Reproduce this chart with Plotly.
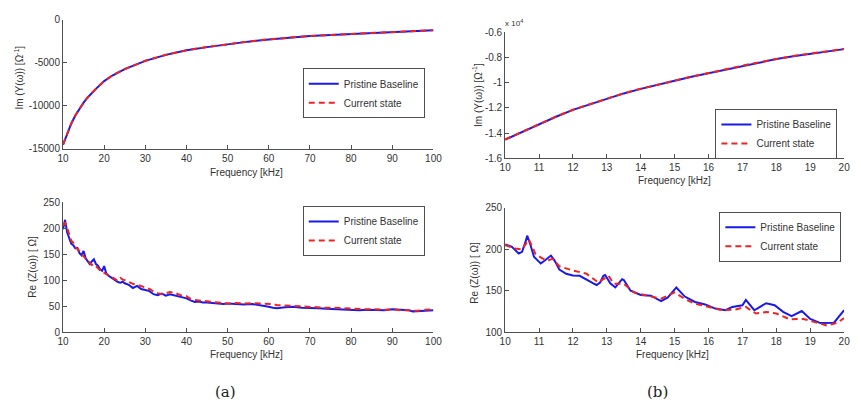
import plotly.graph_objects as go

# ---------------- data ----------------
# (a) top: imaginary admittance over 10-100 kHz
freq_a_im = [10, 11, 12, 13, 14, 15, 16, 17, 18, 20, 22, 25, 27.5, 30, 35, 40, 45,
             50, 55, 60, 65, 70, 75, 80, 85, 90, 95, 100]
im_a_base = [-14550, -13200, -12100, -11150, -10350, -9650, -9050, -8500, -8050,
             -7150, -6500, -5750, -5250, -4800, -4100, -3570, -3200, -2860, -2560,
             -2300, -2100, -1920, -1790, -1690, -1570, -1430, -1340, -1240]
im_a_curr = [-14530, -13190, -12080, -11140, -10340, -9640, -9040, -8490, -8040,
             -7140, -6490, -5740, -5240, -4790, -4090, -3560, -3190, -2850, -2550,
             -2290, -2090, -1910, -1780, -1680, -1560, -1420, -1330, -1230]

# (b) top: imaginary admittance over 10-20 kHz
freq_b_im = [10, 10.5, 11, 11.5, 12, 12.5, 13, 13.5, 14, 14.5, 15, 15.5, 16, 16.5,
             17, 17.5, 18, 18.5, 19, 19.5, 20]
im_b_base = [-14510, -13900, -13310, -12700, -12150, -11700, -11260, -10850, -10490,
             -10150, -9850, -9530, -9250, -8940, -8660, -8390, -8130, -7900, -7700,
             -7500, -7340]
im_b_curr = [-14500, -13890, -13300, -12690, -12140, -11690, -11250, -10840, -10480,
             -10140, -9840, -9520, -9240, -8930, -8650, -8380, -8120, -7890, -7690,
             -7490, -7330]

# (a) bottom: real impedance over 10-100 kHz
freq_a_re = [10, 10.5, 11, 11.5, 12, 12.5, 13, 13.5, 14, 14.5, 15, 15.5, 16, 16.5,
             17, 17.5, 18, 18.5, 19, 19.5, 20, 20.5, 21, 21.5, 22, 22.5, 23, 23.5,
             24, 24.5, 25, 26, 27, 28, 29, 30, 31, 32, 33, 34, 35, 36, 37, 38, 39,
             40, 41, 42, 43, 44, 45, 46, 47, 48, 49, 50, 52, 54, 56, 58, 60, 61, 62,
             64, 66, 68, 70, 72, 74, 76, 78, 80, 82, 84, 86, 88, 90, 92, 94, 95, 96,
             98, 100]
re_a_base = [198, 216, 192, 182, 170, 167, 161, 162, 152, 148, 156, 142, 137, 131,
             136, 140, 131, 128, 121, 118, 127, 113, 109, 106, 104, 100, 98, 96,
             95, 97, 94, 91, 85, 89, 83, 81, 79, 73, 71, 74, 70, 73, 71, 68, 66,
             65, 61, 58, 59, 57, 57, 56, 56, 55, 54, 55, 54, 53, 54, 52, 49, 47, 46,
             48, 49, 47, 47, 46, 45, 44, 44, 42, 42, 43, 42, 42, 44, 43, 42, 40, 40,
             41, 42]
re_a_curr = [205, 210, 201, 186, 176, 172, 164, 160, 156, 149, 146, 141, 139, 133,
             129, 131, 127, 124, 121, 115, 114, 112, 110, 108, 106, 103, 100, 99,
             104, 101, 100, 96, 93, 91, 89, 86, 83, 78, 75, 73, 75, 77, 76, 73, 70,
             69, 64, 62, 61, 60, 59, 58, 58, 57, 56, 55, 56, 55, 56, 55, 55, 54, 52,
             51, 50, 49, 48, 48, 47, 47, 46, 45, 45, 44, 44, 43, 44, 42, 42, 42, 41,
             43, 44]

# (b) bottom: real impedance over 10-20 kHz
freq_b_re_base = [10, 10.2, 10.4, 10.5, 10.6, 10.65, 10.75, 10.85, 10.95, 11.05,
                  11.15, 11.3, 11.35, 11.45, 11.6, 11.8, 12, 12.2, 12.4, 12.6, 12.7,
                  12.8, 12.9, 12.95, 13.1, 13.25, 13.45, 13.5, 13.7, 14, 14.3, 14.6,
                  14.8, 15.05, 15.3, 15.6, 15.9, 16.2, 16.5, 16.7, 17, 17.1, 17.35,
                  17.7, 17.95, 18.2, 18.45, 18.75, 19, 19.3, 19.7, 20]
re_b_base = [206, 203, 195, 197, 209, 216.5, 205, 191, 187, 183, 186, 191, 192.5,
             187, 175.5, 170.5, 168.5, 168, 163, 159, 157, 160, 168, 169, 159, 154,
             164, 163, 150, 145, 144, 137.5, 142, 154, 143, 136.5, 133.5, 128.5,
             126.5, 130.5, 132.5, 139, 126.5, 135, 132.5, 124.5, 119.5, 125.5, 116,
             111, 111.5, 126.5]
freq_b_re_curr = [10, 10.3, 10.5, 10.7, 10.9, 11.1, 11.25, 11.4, 11.6, 12, 12.4,
                  12.75, 13.05, 13.2, 13.5, 13.8, 14.2, 14.6, 15, 15.3, 15.6, 16,
                  16.4, 16.8, 17.1, 17.4, 17.7, 18, 18.4, 18.8, 19.2, 19.5, 19.8, 20]
re_b_curr = [205, 201, 200, 212, 194, 189, 186.5, 188.5, 179.5, 174.5, 170.5, 160,
             168, 158.5, 158.5, 148, 144, 140.5, 148, 140, 134.5, 130.5, 126.5,
             127.5, 130.5, 122.5, 124.5, 122.5, 115.5, 116, 111, 108, 111.5, 117]

series_names = ["Pristine Baseline", "Current state"]
ticks_a = [10, 20, 30, 40, 50, 60, 70, 80, 90, 100]
ticks_b = [10, 11, 12, 13, 14, 15, 16, 17, 18, 19, 20]
im_a_tickvals = [-15000, -10000, -5000, 0]
im_b_tickvals = [-16000, -14000, -12000, -10000, -8000, -6000]
im_b_ticktext = ["-1.6", "-1.4", "-1.2", "-1", "-0.8", "-0.6"]

# ---------------- styling ----------------
W, H = 861, 411
BLUE = "rgb(25,25,235)"
RED = "rgb(240,35,35)"
AXC = "#505050"
TXT = "#333333"
FONT = "Liberation Sans, Arial, sans-serif"


def px_x(p):
    return p / W


def px_y(p):
    return 1 - p / H


fig = go.Figure()

panels = [
    # (x-axis id, y-axis id, legend id, freq base, vals base, freq curr, vals curr)
    ("x", "y", "legend", freq_a_im, im_a_base, freq_a_im, im_a_curr),
    ("x2", "y2", "legend2", freq_b_im, im_b_base, freq_b_im, im_b_curr),
    ("x3", "y3", "legend3", freq_a_re, re_a_base, freq_a_re, re_a_curr),
    ("x4", "y4", "legend4", freq_b_re_base, re_b_base, freq_b_re_curr, re_b_curr),
]
for xa, ya, lg, fb, vb, fc, vc in panels:
    fig.add_trace(go.Scatter(x=fb, y=vb, mode="lines", name=series_names[0],
                             xaxis=xa, yaxis=ya, legend=lg,
                             line=dict(color=BLUE, width=2)))
    fig.add_trace(go.Scatter(x=fc, y=vc, mode="lines", name=series_names[1],
                             xaxis=xa, yaxis=ya, legend=lg,
                             line=dict(color=RED, width=2, dash="6px,4px")))

axis_common = dict(showline=True, linecolor=AXC, linewidth=1, mirror=False,
                   ticks="inside", ticklen=4, tickcolor=AXC, tickwidth=1,
                   showgrid=False, zeroline=False,
                   tickfont=dict(family=FONT, size=10, color=TXT))

# panel pixel boxes: left, right, top, bottom
boxes = {
    "1": (58, 435, 14, 147),
    "2": (508, 853, 27, 157),
    "3": (58, 435, 202, 336),
    "4": (508, 853, 208, 336),
}

layout = dict(
    width=W, height=H, margin=dict(l=0, r=0, t=0, b=0),
    paper_bgcolor="white", plot_bgcolor="white", showlegend=True,
    font=dict(family=FONT, size=10, color=TXT),
)

for k, (l, r, t, b) in boxes.items():
    sx = "" if k == "1" else k
    xd = [px_x(l), px_x(r)]
    yd = [px_y(b), px_y(t)]
    layout["xaxis" + sx] = dict(axis_common, domain=xd, anchor="y" + sx)
    layout["yaxis" + sx] = dict(axis_common, domain=yd, anchor="x" + sx)

layout["xaxis"].update(range=[10, 100], tickvals=ticks_a)
layout["yaxis"].update(range=[-15000, 0], tickvals=im_a_tickvals,
                       ticktext=[str(v) for v in im_a_tickvals])
layout["xaxis2"].update(range=[10, 20], tickvals=ticks_b)
layout["yaxis2"].update(range=[-16000, -6000], tickvals=im_b_tickvals,
                        ticktext=im_b_ticktext)
layout["xaxis3"].update(range=[10, 100], tickvals=ticks_a)
layout["yaxis3"].update(range=[0, 250], tickvals=[0, 50, 100, 150, 200, 250])
layout["xaxis4"].update(range=[10, 20], tickvals=ticks_b)
layout["yaxis4"].update(range=[100, 250], tickvals=[100, 150, 200, 250])

legend_common = dict(bgcolor="white", bordercolor=AXC, borderwidth=1,
                     font=dict(family=FONT, size=10, color=TXT),
                     xanchor="left", yanchor="top", tracegroupgap=0)
legend_pos = {"legend": (302, 64), "legend2": (722, 106),
              "legend3": (302, 206), "legend4": (726, 212)}
for lg, (lx, ly) in legend_pos.items():
    layout[lg] = dict(legend_common, x=px_x(lx), y=px_y(ly))

fig.update_layout(**layout)

# axis titles
ylab_im = "Im (Y(ω)) [Ω<sup>-1</sup>]"
ylab_re = "Re (Z(ω)) [ Ω]"
xlab = "Frequency [kHz]"
titles = [
    (xlab, 245, 172, 0), (xlab, 680, 180, 0), (xlab, 245, 359, 0), (xlab, 678, 359, 0),
    (ylab_im, 13, 74, -90), (ylab_im, 480, 92, -90),
    (ylab_re, 27, 269, -90), (ylab_re, 477, 275, -90),
]
for txt, cx, cy, ang in titles:
    fig.add_annotation(text=txt, x=px_x(cx), y=px_y(cy), xref="paper", yref="paper",
                       showarrow=False, textangle=ang, xanchor="center",
                       yanchor="middle", font=dict(family=FONT, size=10, color=TXT))

# exponent marker for the scaled axis
fig.add_annotation(text="x 10<sup>4</sup>", x=px_x(506), y=px_y(18), xref="paper",
                   yref="paper", showarrow=False, xanchor="left", yanchor="middle",
                   font=dict(family=FONT, size=8, color=TXT))

# panel captions
for cap, cx in (("(a)", 223), ("(b)", 663)):
    fig.add_annotation(text=cap, x=px_x(cx), y=px_y(398), xref="paper", yref="paper",
                       showarrow=False, xanchor="center", yanchor="middle",
                       font=dict(family="DejaVu Serif, Liberation Serif, serif",
                                 size=15, color="#222222"))

fig.write_html("out.html")
